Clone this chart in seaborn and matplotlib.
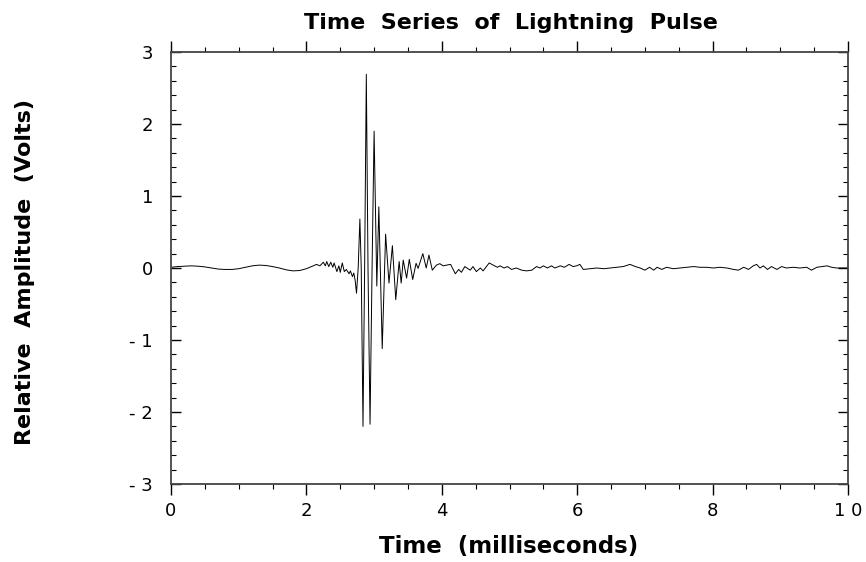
import matplotlib
matplotlib.use("Agg")
import matplotlib.pyplot as plt
import numpy as np
import pandas as pd
import seaborn as sns
from matplotlib.ticker import MultipleLocator

# ---- data (time in ms, amplitude in volts) ----
t_pre = [0.0, 0.1, 0.2, 0.3, 0.4, 0.5, 0.6, 0.7, 0.8, 0.9, 1.0, 1.1, 1.2, 1.3,
         1.4, 1.5, 1.6, 1.7, 1.8, 1.9, 2.0, 2.1]
v_pre = [0.01, 0.02, 0.025, 0.03, 0.025, 0.015, 0.0, -0.015, -0.02, -0.02, -0.01,
         0.01, 0.03, 0.04, 0.035, 0.02, 0.0, -0.025, -0.04, -0.035, -0.01, 0.03]

t_onset = [2.15, 2.20, 2.25, 2.28, 2.30, 2.33, 2.36, 2.39, 2.41, 2.45, 2.48, 2.50,
           2.53, 2.56, 2.59, 2.63, 2.65, 2.68, 2.70, 2.72, 2.74]
v_onset = [0.05, 0.03, 0.08, 0.03, 0.09, 0.02, 0.08, 0.01, 0.07, -0.05, 0.03, -0.06,
           0.07, -0.05, -0.02, -0.08, -0.04, -0.12, -0.07, -0.17, -0.35]

t_pulse = [2.765, 2.79, 2.81, 2.836, 2.86, 2.885, 2.91, 2.94, 2.97, 3.00, 3.04,
           3.07, 3.12, 3.17, 3.22, 3.27, 3.32, 3.37, 3.40, 3.43, 3.48, 3.52, 3.57,
           3.62, 3.65, 3.72, 3.77, 3.81, 3.86, 3.92, 3.97]
v_pulse = [0.0, 0.68, 0.0, -2.20, 0.0, 2.69, 0.0, -2.17, 0.0, 1.90, -0.25,
           0.85, -1.12, 0.47, -0.21, 0.31, -0.44, 0.09, -0.21, 0.11, -0.14, 0.12, -0.16,
           0.065, -0.005, 0.20, 0.0, 0.18, -0.03, 0.04, 0.06]

t_tail = [4.02, 4.07, 4.13, 4.20, 4.25, 4.29, 4.34, 4.42, 4.46, 4.51, 4.57, 4.61,
          4.70, 4.76, 4.82, 4.86, 4.92, 4.97, 5.03, 5.10, 5.18, 5.25, 5.33, 5.40,
          5.45, 5.50, 5.56, 5.62, 5.67, 5.75, 5.81, 5.88, 5.94, 5.99, 6.04, 6.09,
          6.19, 6.29, 6.39, 6.49, 6.58, 6.68, 6.78, 6.86, 6.93, 7.00, 7.07, 7.13,
          7.18, 7.25, 7.32, 7.42, 7.52, 7.62, 7.72, 7.81, 7.91, 8.01, 8.11, 8.21,
          8.31, 8.38, 8.46, 8.53, 8.60, 8.65, 8.70, 8.75, 8.81, 8.87, 8.95, 9.02,
          9.09, 9.19, 9.29, 9.39, 9.46, 9.54, 9.61, 9.69, 9.76, 9.83, 10.0]
v_tail = [0.03, 0.04, 0.05, -0.08, -0.02, -0.06, 0.02, -0.03, 0.02, -0.05, 0.0, -0.04,
          0.07, 0.04, 0.01, 0.03, 0.0, 0.02, -0.02, 0.0, -0.03, -0.04, -0.03, 0.02,
          0.0, 0.03, 0.0, 0.03, 0.0, 0.03, 0.01, 0.05, 0.02, 0.03, 0.05, -0.02,
          -0.01, 0.0, -0.01, 0.0, 0.01, 0.02, 0.05, 0.02, 0.0, -0.03, 0.01, -0.03,
          0.01, -0.02, 0.01, -0.01, 0.0, 0.01, 0.02, 0.01, 0.01, 0.0, 0.01, 0.0,
          -0.02, -0.03, 0.01, -0.02, 0.03, 0.05, 0.0, 0.03, -0.02, 0.02, -0.02, 0.02,
          0.0, 0.01, 0.0, 0.01, -0.03, 0.01, 0.02, 0.03, 0.01, 0.0, 0.0]

x_ticks = [0, 2, 4, 6, 8, 10]
x_tick_labels = ["0", "2", "4", "6", "8", "1 0"]
y_ticks = [-3, -2, -1, 0, 1, 2, 3]
y_tick_labels = ["- 3", "- 2", "- 1", "0", "1", "2", "3"]

title = "Time  Series  of  Lightning  Pulse"
x_label = "Time  (milliseconds)"
y_label = "Relative  Amplitude  (Volts)"

df = pd.DataFrame({
    "t": t_pre + t_onset + t_pulse + t_tail,
    "v": v_pre + v_onset + v_pulse + v_tail,
})

sns.set_style("ticks")
plt.rcParams["font.family"] = ["DejaVu Sans"]
plt.rcParams["text.color"] = "black"
plt.rcParams["axes.labelcolor"] = "black"
plt.rcParams["xtick.color"] = "black"
plt.rcParams["ytick.color"] = "black"

W, H = 866, 562
fig = plt.figure(figsize=(W / 100, H / 100), dpi=100)
L, R, T, B = 171, 848, 52, 484
ax = fig.add_axes([L / W, 1 - B / H, (R - L) / W, (B - T) / H])

sns.lineplot(data=df, x="t", y="v", ax=ax, color="black", linewidth=0.7,
             estimator=None, sort=False)

ax.set_xlim(0, 10)
ax.set_ylim(-3, 3)
ax.set_xticks(x_ticks)
ax.set_xticklabels(x_tick_labels)
ax.set_yticks(y_ticks)
ax.set_yticklabels(y_tick_labels)
ax.xaxis.set_minor_locator(MultipleLocator(0.5))
ax.yaxis.set_minor_locator(MultipleLocator(0.2))

for s in ax.spines.values():
    s.set_visible(True)
    s.set_color("#444444")
    s.set_linewidth(1.3)

ax.tick_params(axis="x", which="both", direction="out", top=True, bottom=True,
               color="black", labelcolor="black")
ax.tick_params(axis="x", which="major", length=8, width=1.0, pad=5, labelsize=13)
ax.tick_params(axis="x", which="minor", length=3.6, width=0.8)
ax.tick_params(axis="y", which="both", direction="in", left=True, right=True,
               color="black", labelcolor="black")
ax.tick_params(axis="y", which="major", length=7.2, width=1.0, pad=13, labelsize=13)
ax.tick_params(axis="y", which="minor", length=3.6, width=0.8)

ax.set_xlabel("")
ax.set_ylabel("")

fig.text(511 / W, 1 - 29 / H, title, ha="center", va="baseline",
         fontsize=16, fontweight="bold", color="black")
fig.text(509 / W, 1 - 553 / H, x_label, ha="center", va="baseline",
         fontsize=16.5, fontweight="bold", color="black")
fig.text(25 / W, 1 - 272 / H, y_label, ha="center", va="center",
         rotation=90, fontsize=16, fontweight="bold", color="black")

fig.savefig("out.png", dpi=100)
